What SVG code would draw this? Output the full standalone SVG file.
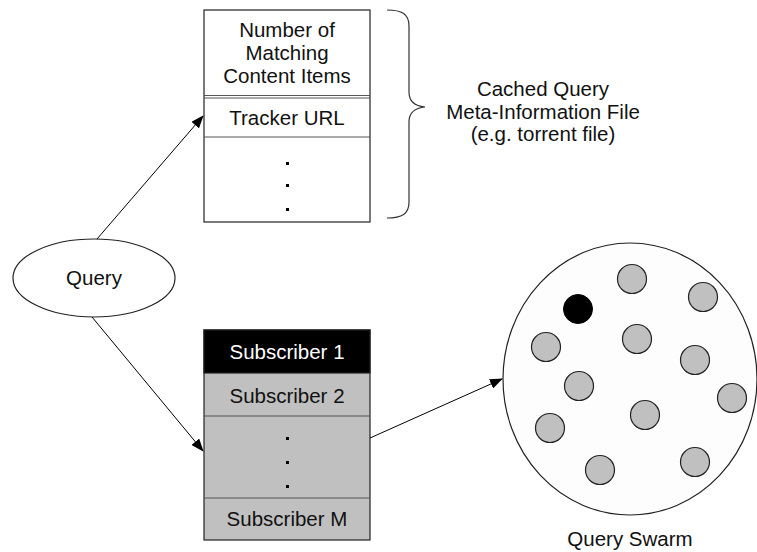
<svg xmlns="http://www.w3.org/2000/svg" width="757" height="552" viewBox="0 0 757 552">
  <defs>
    <marker id="arrow" markerWidth="13" markerHeight="10" refX="12" refY="5" orient="auto" markerUnits="userSpaceOnUse">
      <path d="M0,0 L13,5 L0,10 Z" fill="#000"/>
    </marker>
    <style>
      text { font-family: "Liberation Sans", Arial, sans-serif; font-size: 20.5px; fill: #111; text-anchor: middle; }
      .box { stroke: #222; stroke-width: 1.2; }
      .div { stroke: #555; stroke-width: 1; }
      .peer { fill: #c0c0c0; stroke: #222; stroke-width: 1.2; }
      .conn { stroke: #000; stroke-width: 1; fill: none; }
      .dot { fill: #000; }
    </style>
  </defs>
  <rect width="757" height="552" fill="#fff"/>

  <!-- Cached query meta-information file -->
  <g id="metafile">
    <rect class="box" x="204" y="10" width="166" height="212" fill="#fff"/>
    <line class="div" x1="204" y1="95.5" x2="370" y2="95.5"/>
    <line class="div" x1="204" y1="98" x2="370" y2="98"/>
    <line class="div" x1="204" y1="137" x2="370" y2="137"/>
    <text x="287" y="37">Number of</text>
    <text x="287" y="60">Matching</text>
    <text x="287" y="83">Content Items</text>
    <text x="287" y="125">Tracker URL</text>
    <rect class="dot" x="286" y="162" width="3" height="3"/>
    <rect class="dot" x="286" y="184" width="3" height="3"/>
    <rect class="dot" x="286" y="208" width="3" height="3"/>
  </g>

  <!-- Brace and caption -->
  <g id="metafile-label">
    <path d="M387,10 C402,10 409,14 409,26 L409,92 C409,101 414,106 425,107 C414,108 409,113 409,122 L409,202 C409,214 402,218 387,218" fill="none" stroke="#333" stroke-width="1.2"/>
    <text x="543" y="96">Cached Query</text>
    <text x="543" y="119">Meta-Information File</text>
    <text x="543" y="141">(e.g. torrent file)</text>
  </g>

  <!-- Query -->
  <g id="query">
    <ellipse cx="94" cy="278" rx="81" ry="39" fill="#fff" stroke="#222" stroke-width="1.2"/>
    <text x="94" y="285">Query</text>
  </g>

  <!-- Subscriber list -->
  <g id="subscribers">
    <rect class="box" x="204" y="330" width="166" height="210" fill="#c0c0c0"/>
    <rect x="204" y="330" width="166" height="43" fill="#000" stroke="#222" stroke-width="1.2"/>
    <line class="div" x1="204" y1="416" x2="370" y2="416"/>
    <line class="div" x1="204" y1="498" x2="370" y2="498"/>
    <text x="287" y="359" style="fill:#fff">Subscriber 1</text>
    <text x="287" y="403">Subscriber 2</text>
    <rect class="dot" x="286" y="437" width="3" height="3"/>
    <rect class="dot" x="286" y="461" width="3" height="3"/>
    <rect class="dot" x="286" y="485" width="3" height="3"/>
    <text x="287" y="526">Subscriber M</text>
  </g>

  <!-- Query swarm -->
  <g id="swarm">
    <ellipse cx="630" cy="379" rx="127" ry="136" fill="#fdfdfd" stroke="#222" stroke-width="1.2"/>
    <circle cx="578" cy="309" r="14.5" fill="#000" stroke="#000"/>
    <circle class="peer" cx="632" cy="279" r="14.5"/>
    <circle class="peer" cx="703" cy="297" r="14.5"/>
    <circle class="peer" cx="546" cy="347" r="14.5"/>
    <circle class="peer" cx="637" cy="339" r="14.5"/>
    <circle class="peer" cx="695" cy="360" r="14.5"/>
    <circle class="peer" cx="579" cy="386" r="14.5"/>
    <circle class="peer" cx="732" cy="398" r="14.5"/>
    <circle class="peer" cx="550" cy="428" r="14.5"/>
    <circle class="peer" cx="645" cy="415" r="14.5"/>
    <circle class="peer" cx="600" cy="470" r="14.5"/>
    <circle class="peer" cx="695" cy="462" r="14.5"/>
    <text x="630" y="546">Query Swarm</text>
  </g>

  <!-- Connectors -->
  <g id="connectors">
    <line class="conn" x1="97" y1="239" x2="203" y2="116" marker-end="url(#arrow)"/>
    <line class="conn" x1="92" y1="317" x2="203" y2="451" marker-end="url(#arrow)"/>
    <line class="conn" x1="370" y1="438" x2="502" y2="379" marker-end="url(#arrow)"/>
  </g>
</svg>
